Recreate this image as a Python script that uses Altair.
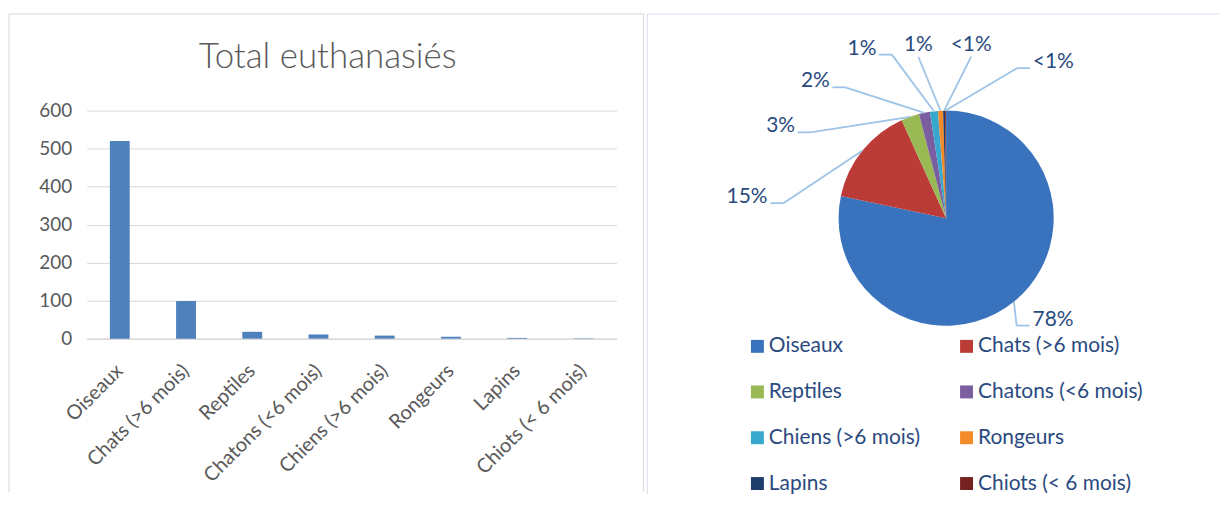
import altair as alt
import pandas as pd

# ---- data -------------------------------------------------------------
categories = ["Oiseaux", "Chats (>6 mois)", "Reptiles", "Chatons (<6 mois)",
              "Chiens (>6 mois)", "Rongeurs", "Lapins", "Chiots (< 6 mois)"]
values = [520, 99, 18, 11, 8, 5, 2, 1]
pie_colors = ["#3A73BD", "#BB3B37", "#98B954", "#7B5EA0",
              "#38A9CC", "#F38B2B", "#1F3D6B", "#74211F"]
y_ticks = [0, 100, 200, 300, 400, 500, 600]
bar_title = "Total euthanasiés"

df = pd.DataFrame({"cat": categories, "value": values,
                   "idx": list(range(len(categories)))})
frame_df = pd.DataFrame({"k": [0]})

FONT = "Lato"
GREY = "#595959"
TXT = "#2A4A7F"


def frame(x1, x2, y1, y2, color, right=None):
    base = alt.Chart(frame_df)
    parts = [
        base.mark_rule(color=color, strokeWidth=1).encode(
            x=alt.value(x1), x2=alt.value(x2), y=alt.value(y1)),
        base.mark_rule(color=color, strokeWidth=1).encode(
            x=alt.value(x1), y=alt.value(y1), y2=alt.value(y2)),
    ]
    if right is not None:
        parts.append(base.mark_rule(color=color, strokeWidth=1).encode(
            x=alt.value(right), y=alt.value(y1), y2=alt.value(y2)))
    return parts


# ---- left : bar chart --------------------------------------------------
BW, BH = 532, 229
bars = alt.Chart(df).mark_bar(color="#4F81BD").encode(
    x=alt.X("cat:N", sort=categories,
            scale=alt.Scale(paddingInner=0.7, paddingOuter=0.35),
            axis=alt.Axis(title=None, labelAngle=-45, labelAlign="right",
                          labelBaseline="middle", labelFontSize=20,
                          labelFont=FONT, labelColor=GREY, labelPadding=29,
                          ticks=False, domainColor="#d9d9d9", domainWidth=1.5,
                          labelLimit=0)),
    y=alt.Y("value:Q", scale=alt.Scale(domain=[0, 600]),
            axis=alt.Axis(title=None, values=y_ticks, grid=True,
                          gridColor="#d9d9d9", gridWidth=1, domain=False,
                          ticks=False, labelFontSize=19, labelFont=FONT,
                          labelColor=GREY, labelPadding=15)),
)
title_mark = alt.Chart(frame_df).mark_text(
    text=bar_title, fontSize=35, font=FONT, fontWeight=300, color=GREY,
    align="center", baseline="middle").encode(
    x=alt.value(242), y=alt.value(-54))
left = alt.layer(bars, title_mark,
                 *frame(-78, 559, -97, 383, "#d9d9d9", right=559)).properties(
    width=BW, height=BH)

# ---- right : pie chart -------------------------------------------------
PW, PH, R = 300, 216, 108
cx, cy = PW / 2, PH / 2
pie_base = alt.Chart(df).transform_joinaggregate(
    total="sum(value)"
).transform_window(
    cum="sum(value)", sort=[alt.SortField("idx", order="ascending")],
    frame=[None, 0]
).transform_calculate(
    mid="2*PI*(datum.cum - datum.value/2)/datum.total",
    la=("datum.idx == 0 ? datum.mid - 0.13 : (datum.idx == 1 ? 276 : "
        "299 + 17.3*(datum.idx-2) + (datum.idx == 7 ? 9 : 0))*PI/180"),
    lr=("datum.idx == 0 ? 148 : (datum.idx == 1 ? 201 : "
        "(abs(sin(datum.la)) < 0.35 ? 176 : 190))"),
    lx=f"{cx} + datum.lr*sin(datum.la)",
    ly=f"{cy} - datum.lr*cos(datum.la)",
    ex=f"{cx} + {R}*sin(datum.mid)",
    ey=f"{cy} - {R}*cos(datum.mid)",
    pctv="100*datum.value/datum.total",
    lab="datum.pctv < 0.5 ? '<1%' : format(datum.pctv, '.0f') + '%'",
    hw="length(datum.lab)*6.5 + 4",
    side="sin(datum.la) < -0.35 ? -1 : (sin(datum.la) > 0.35 ? 1 : 0)",
    sx="datum.lx - datum.side*datum.hw",
    sy="datum.side == 0 ? datum.ly + 12 : datum.ly + 6",
    kx="datum.sx - datum.side*13",
    ky="datum.sy",
)

arc = alt.Chart(df).mark_arc(radius=R).encode(
    theta=alt.Theta("value:Q", stack=True),
    color=alt.Color("cat:N", title=None,
                    scale=alt.Scale(domain=categories, range=pie_colors),
                    legend=alt.Legend(orient="none", legendX=-50, legendY=226,
                                      direction="horizontal",
                                      columns=2, symbolType="square",
                                      symbolSize=169, symbolStrokeWidth=0,
                                      labelFontSize=21, labelFont=FONT,
                                      labelColor=TXT, labelOffset=1,
                                      columnPadding=36, rowPadding=24,
                                      padding=0, labelLimit=0)),
    order=alt.Order("idx:Q", sort="ascending"),
)
lead1 = pie_base.mark_rule(color="#9DC3E6", strokeWidth=1.8).encode(
    x=alt.X("ex:Q", scale=None, axis=None), y=alt.Y("ey:Q", scale=None, axis=None),
    x2="kx:Q", y2="ky:Q")
lead2 = pie_base.mark_rule(color="#9DC3E6", strokeWidth=1.8).encode(
    x=alt.X("kx:Q", scale=None, axis=None), y=alt.Y("ky:Q", scale=None, axis=None),
    x2="sx:Q", y2="sy:Q")
labels = pie_base.mark_text(fontSize=21, font=FONT, color=TXT,
                            align="center", baseline="middle").encode(
    x=alt.X("lx:Q", scale=None, axis=None), y=alt.Y("ly:Q", scale=None, axis=None),
    text="lab:N")
right = alt.layer(arc, lead1, lead2, labels,
                  *frame(-150, 425, -97, 385, "#d6e0ee")).properties(
    width=PW, height=PH)

chart = alt.hconcat(left, right, spacing=2).resolve_legend(
    color="independent"
).properties(
    padding={"left": 0, "top": 4, "right": 0, "bottom": 0},
    background="white",
).configure_view(stroke="transparent")

chart.save("out.html", embed_options={"renderer": "svg", "actions": False})
